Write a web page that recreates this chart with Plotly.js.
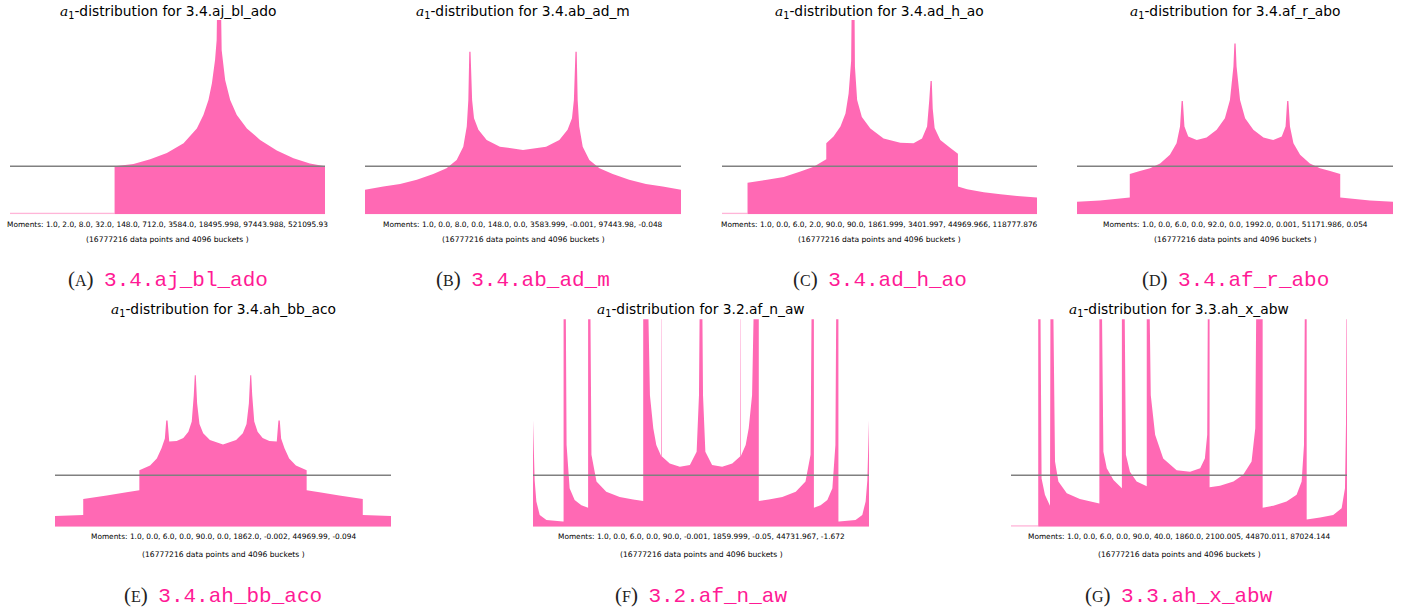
<!DOCTYPE html>
<html>
<head>
<meta charset="utf-8">
<script src="https://cdn.plot.ly/plotly-3.0.1.min.js"></script>
<style>
  body { margin: 0; background: #fff; }
  #plot { width: 1406px; height: 612px; }
</style>
</head>
<body>
<div id="plot"></div>
<script>
// bucket position (0..1 across the a1 range) and density, 1.0 = mean density (grey line)
// values of 6 are peaks that run off the top of the panel
const aX = [0.332, 0.332, 0.392, 0.445, 0.498, 0.551, 0.593, 0.614, 0.630, 0.641, 0.651, 0.656, 0.661, 0.666, 0.672, 0.683, 0.699, 0.720, 0.752, 0.794, 0.847, 0.900, 0.952, 1.0];
const aY = [0, 1.0, 1.05, 1.15, 1.28, 1.48, 1.79, 2.07, 2.38, 2.73, 3.22, 3.63, 6, 6, 3.42, 2.8, 2.38, 2.07, 1.79, 1.55, 1.33, 1.17, 1.06, 1.0];
const aLowX = [0, 0.332];
const aLowY = [0.03, 0.03];

const bX = [0, 0.058, 0.111, 0.164, 0.216, 0.258, 0.290, 0.311, 0.322, 0.327, 0.330, 0.334, 0.339, 0.345, 0.359, 0.385, 0.427, 0.5,
            0.573, 0.615, 0.641, 0.655, 0.661, 0.666, 0.670, 0.673, 0.678, 0.689, 0.710, 0.742, 0.784, 0.836, 0.889, 0.942, 1.0];
const bY = [0.51, 0.58, 0.63, 0.72, 0.84, 0.96, 1.13, 1.41, 1.83, 2.38, 3.39, 3.39, 2.38, 2.0, 1.76, 1.55, 1.41, 1.34,
            1.41, 1.55, 1.76, 2.0, 2.38, 3.39, 3.39, 2.38, 1.83, 1.41, 1.13, 0.96, 0.84, 0.72, 0.63, 0.58, 0.51];

const cX = [0.081, 0.081, 0.143, 0.196, 0.249, 0.291, 0.331, 0.331, 0.354, 0.376, 0.392, 0.402, 0.410, 0.414, 0.419, 0.422, 0.429, 0.444, 0.471, 0.513, 0.566, 0.608,
            0.635, 0.651, 0.658, 0.662, 0.666, 0.669, 0.675, 0.693, 0.725, 0.749, 0.749, 0.778, 0.831, 0.884, 0.937, 1.0];
const cY = [0, 0.66, 0.72, 0.78, 0.89, 0.99, 1.15, 1.48, 1.62, 1.83, 2.1, 2.52, 3.2, 6, 6, 3.08, 2.38, 2.03, 1.79, 1.58, 1.49, 1.48,
            1.58, 1.83, 2.38, 2.78, 2.78, 2.2, 1.8, 1.55, 1.38, 1.26, 0.58, 0.52, 0.46, 0.42, 0.38, 0.35];
const cLowX = [0, 0.081];
const cLowY = [0.03, 0.03];

const dX = [0, 0.073, 0.167, 0.167, 0.199, 0.231, 0.263, 0.294, 0.315, 0.326, 0.331, 0.335, 0.340, 0.352, 0.379, 0.410, 0.442, 0.468, 0.484, 0.495, 0.498, 0.502,
            0.505, 0.516, 0.532, 0.558, 0.590, 0.621, 0.648, 0.660, 0.665, 0.669, 0.674, 0.685, 0.706, 0.737, 0.769, 0.801, 0.833, 0.833, 0.927, 1.0];
const dY = [0.26, 0.29, 0.35, 0.84, 0.9, 0.96, 1.06, 1.24, 1.48, 1.83, 2.36, 2.36, 1.83, 1.62, 1.55, 1.6, 1.76, 2.0, 2.38, 3.08, 3.56, 3.56,
            3.08, 2.38, 2.0, 1.76, 1.6, 1.55, 1.62, 1.83, 2.36, 2.36, 1.83, 1.48, 1.24, 1.06, 0.96, 0.9, 0.84, 0.35, 0.29, 0.26];

const eX = [0, 0.084, 0.084, 0.154, 0.213, 0.251, 0.251, 0.283, 0.303, 0.317, 0.327, 0.331, 0.335, 0.340, 0.362, 0.382, 0.397, 0.407, 0.413, 0.416, 0.419, 0.423, 0.430, 0.441, 0.461, 0.5,
            0.539, 0.559, 0.570, 0.577, 0.581, 0.584, 0.587, 0.593, 0.603, 0.618, 0.638, 0.660, 0.665, 0.669, 0.673, 0.683, 0.697, 0.717, 0.749, 0.749, 0.787, 0.846, 0.916, 0.916, 1.0];
const eY = [0.21, 0.23, 0.54, 0.61, 0.67, 0.71, 1.10, 1.19, 1.33, 1.53, 1.72, 2.07, 2.07, 1.66, 1.67, 1.73, 1.85, 2.05, 2.56, 2.95, 2.95, 2.4, 2.0, 1.82, 1.69, 1.6,
            1.69, 1.82, 2.0, 2.4, 2.95, 2.95, 2.56, 2.05, 1.85, 1.73, 1.67, 1.66, 2.07, 2.07, 1.72, 1.53, 1.33, 1.19, 1.10, 0.71, 0.67, 0.61, 0.54, 0.23, 0.21];

const fX = [0, 0.005, 0.010, 0.020, 0.040, 0.089, 0.091, 0.091, 0.096, 0.100, 0.109, 0.124, 0.144, 0.164, 0.164, 0.169, 0.174, 0.189, 0.218, 0.258, 0.298, 0.328, 0.328, 0.338,
            0.348, 0.358, 0.367, 0.381, 0.382, 0.383, 0.407, 0.437, 0.467, 0.487, 0.494, 0.498, 0.502, 0.506, 0.513, 0.533, 0.563, 0.593, 0.617, 0.618, 0.619,
            0.633, 0.642, 0.652, 0.662, 0.672, 0.672, 0.702, 0.742, 0.782, 0.811, 0.826, 0.831, 0.836, 0.836, 0.856, 0.876, 0.891, 0.900, 0.904, 0.909, 0.909,
            0.911, 0.960, 0.980, 0.990, 0.995, 1.0];
const fY = [2.08, 0.9, 0.49, 0.23, 0.13, 0.1, 0.1, 6, 6, 1.59, 0.75, 0.52, 0.42, 0.37, 6, 6, 1.4, 0.88, 0.68, 0.58, 0.53, 0.5, 6, 6,
            2.56, 1.92, 1.59, 1.38, 6, 1.37, 1.23, 1.17, 1.2, 1.46, 2.56, 6, 6, 2.56, 1.46, 1.2, 1.17, 1.23, 1.37, 6, 1.38,
            1.59, 1.92, 2.56, 6, 6, 0.5, 0.53, 0.58, 0.68, 0.88, 1.4, 6, 6, 0.37, 0.42, 0.52, 0.75, 1.59, 6, 6, 0.1,
            0.1, 0.13, 0.23, 0.49, 0.9, 2.08];

const gX = [0.081, 0.081, 0.086, 0.091, 0.101, 0.116, 0.118, 0.123, 0.131, 0.141, 0.166, 0.205, 0.263, 0.263, 0.268, 0.275, 0.285, 0.305, 0.330, 0.330, 0.336,
            0.342, 0.354, 0.374, 0.404, 0.404, 0.409, 0.416, 0.429, 0.453, 0.493, 0.533, 0.563, 0.577, 0.584, 0.587, 0.591, 0.591, 0.622, 0.662, 0.691,
            0.716, 0.727, 0.732, 0.749, 0.749, 0.781, 0.820, 0.850, 0.865, 0.872, 0.876, 0.880, 0.880, 0.920, 0.959, 0.984, 0.994, 0.997, 1.0];
const gY = [0, 6, 6, 0.94, 0.62, 0.41, 6, 6, 1.27, 0.88, 0.65, 0.54, 0.45, 6, 6, 1.46, 1.14, 0.91, 0.75, 6, 6,
            1.4, 1.07, 0.88, 0.79, 6, 6, 2.56, 1.79, 1.33, 1.1, 1.07, 1.14, 1.33, 1.79, 6, 6, 0.77, 0.8, 0.88, 1.01,
            1.27, 1.92, 6, 6, 0.37, 0.41, 0.49, 0.62, 0.88, 1.59, 6, 6, 0.14, 0.18, 0.23, 0.36, 0.75, 2.0, 6];
const gLowX = [0, 0.081];
const gLowY = [0.03, 0.03];

const names = ['3.4.aj_bl_ado', '3.4.ab_ad_m', '3.4.ad_h_ao', '3.4.af_r_abo', '3.4.ah_bb_aco', '3.2.af_n_aw', '3.3.ah_x_abw'];
const letters = ['A', 'B', 'C', 'D', 'E', 'F', 'G'];
const moments = [
  '1.0, 2.0, 8.0, 32.0, 148.0, 712.0, 3584.0, 18495.998, 97443.988, 521095.93',
  '1.0, 0.0, 8.0, 0.0, 148.0, 0.0, 3583.999, -0.001, 97443.98, -0.048',
  '1.0, 0.0, 6.0, 2.0, 90.0, 90.0, 1861.999, 3401.997, 44969.966, 118777.876',
  '1.0, 0.0, 6.0, 0.0, 92.0, 0.0, 1992.0, 0.001, 51171.986, 0.054',
  '1.0, 0.0, 6.0, 0.0, 90.0, 0.0, 1862.0, -0.002, 44969.99, -0.094',
  '1.0, 0.0, 6.0, 0.0, 90.0, -0.001, 1859.999, -0.05, 44731.967, -1.672',
  '1.0, 0.0, 6.0, 0.0, 90.0, 40.0, 1860.0, 2100.005, 44870.011, 87024.144'
];
const meanLevel = 1.0;

const series = [[aX, aY], [bX, bY], [cX, cY], [dX, dY], [eX, eY], [fX, fY], [gX, gY]];
const lowParts = { 0: [aLowX, aLowY], 2: [cLowX, cLowY], 6: [gLowX, gLowY] };

// panel placement in pixels of the 1406x612 page
const W = 1406, H = 612;
const boxes = [
  [10, 325, 20, 214.3], [365, 681, 20, 214.3], [722, 1037, 20, 214.3], [1077, 1393, 20, 214.3],
  [55, 391, 319.3, 526.7], [533, 869, 319.3, 526.7], [1011, 1347, 319.3, 526.7]
];

const pink = '#ff69b4';
const lightPink = '#ffb5d8';
const capPink = '#ff1a95';

const data = [];
const layout = {
  width: W, height: H,
  margin: { l: 0, r: 0, t: 0, b: 0 },
  paper_bgcolor: '#fff', plot_bgcolor: 'rgba(0,0,0,0)',
  showlegend: false,
  annotations: []
};

boxes.forEach((b, i) => {
  const n = i + 1;
  const xa = 'x' + (n === 1 ? '' : n), ya = 'y' + (n === 1 ? '' : n);
  const top = i < 4;
  layout['xaxis' + (n === 1 ? '' : n)] = {
    domain: [b[0] / W, b[1] / W], range: [0, 1], visible: false, fixedrange: true, anchor: ya
  };
  layout['yaxis' + (n === 1 ? '' : n)] = {
    domain: [1 - b[3] / H, 1 - b[2] / H], range: [0, top ? 4.05 : 4.04], visible: false, fixedrange: true, anchor: xa
  };

  if (lowParts[i]) {
    data.push({ x: lowParts[i][0], y: lowParts[i][1], xaxis: xa, yaxis: ya, type: 'scatter', mode: 'none',
      fill: 'tozeroy', fillcolor: lightPink, hoverinfo: 'skip' });
  }
  data.push({ x: series[i][0], y: series[i][1], xaxis: xa, yaxis: ya, type: 'scatter', mode: 'none',
    fill: 'tozeroy', fillcolor: pink, hoverinfo: 'skip' });
  // mean density line
  data.push({ x: [0, 1], y: [meanLevel, meanLevel], xaxis: xa, yaxis: ya, type: 'scatter', mode: 'lines',
    line: { color: '#808080', width: 1.5 }, hoverinfo: 'skip' });

  const cx = (b[0] + b[1]) / 2 / W;
  const yTitle = top ? 12 : 310;
  const yMom = top ? 224 : 536;
  const yPts = top ? 240 : 554;
  const yCap = top ? 280 : 595;
  const ann = (text, y, font) => layout.annotations.push({
    text: text, xref: 'paper', yref: 'paper', x: cx, y: 1 - y / H, xanchor: 'center', yanchor: 'middle',
    showarrow: false, font: font
  });
  ann("<span style=\"font-family:'DejaVu Serif'\"><i>a</i></span><sub>1</sub>-distribution for " + names[i], yTitle,
    { family: 'DejaVu Sans', size: 13.8, color: '#000' });
  ann('Moments: ' + moments[i], yMom, { family: 'DejaVu Sans', size: 7.4, color: '#000' });
  ann('(16777216 data points and 4096 buckets )', yPts, { family: 'DejaVu Sans', size: 7.6, color: '#000' });
  ann('(<span style="font-size:16px">' + letters[i] + '</span>)&nbsp; <span style="font-family:\'Liberation Mono\';color:' + capPink + '">' + names[i] + '</span>',
    yCap, { family: 'Liberation Serif', size: 21, color: '#222' });
});

Plotly.newPlot('plot', data, layout, { staticPlot: true, displayModeBar: false });
</script>
</body>
</html>
